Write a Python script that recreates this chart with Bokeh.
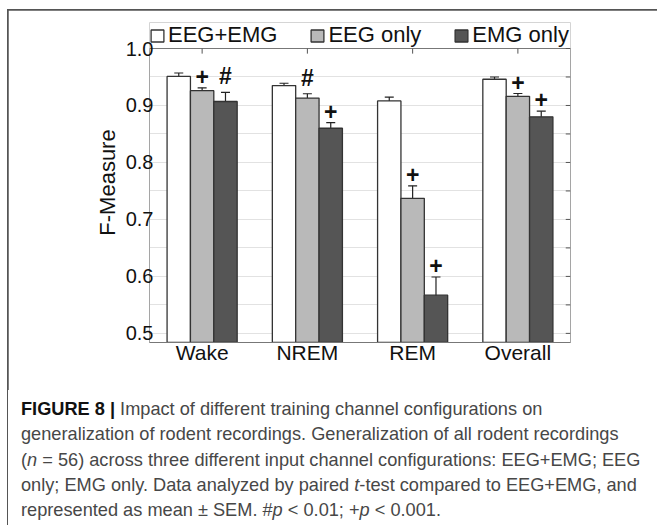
from bokeh.plotting import figure
from bokeh.models import (ColumnDataSource, FactorRange, Range1d, Whisker, TeeHead, Legend,
                          LegendItem, SingleIntervalTicker, Div, NumeralTickFormatter)
from bokeh.transform import dodge
from bokeh.layouts import column
from bokeh.embed import file_html
from bokeh.resources import INLINE
from bokeh.core.properties import value

# ---------------- data ----------------
stages = ["Wake", "NREM", "REM", "Overall"]
series_names = ["EEG+EMG", "EEG only", "EMG only"]

mean_eeg_emg = [0.951, 0.935, 0.908, 0.946]
sem_eeg_emg = [0.006, 0.004, 0.0067, 0.004]

mean_eeg = [0.926, 0.913, 0.737, 0.916]
sem_eeg = [0.005, 0.0076, 0.022, 0.005]

mean_emg = [0.907, 0.860, 0.567, 0.880]
sem_emg = [0.016, 0.010, 0.032, 0.010]

sig_eeg_emg = ["", "", "", ""]
sig_eeg = ["+", "#", "+", "+"]
sig_emg = ["#", "+", "+", "+"]

y_min, y_max = 0.484, 1.0
right_tick_values = [0.5, 0.55, 0.6, 0.65, 0.7, 0.75, 0.8, 0.85, 0.9, 0.95, 1.0]

FONT = value("Liberation Sans")

W, H = 649, 380
PLOT_H = 294          # pixel height of the data box (y_min .. y_max)
LEGEND_BAND = 26      # pixel band above the data box that holds the legend
B_LEFT, B_RIGHT, B_TOP, B_BOTTOM = 141, 87, 38 - LEGEND_BAND, 48

px_per_unit = PLOT_H / (y_max - y_min)
y_top = y_max + LEGEND_BAND / px_per_unit
label_lift = 2 * 11 / px_per_unit   # raises the centre of the y-axis title by ~11 px

p = figure(x_range=FactorRange(factors=stages, range_padding=0),
           y_range=Range1d(y_min, y_top),
           width=W, height=H, output_backend="svg", toolbar_location=None,
           min_border_left=B_LEFT, min_border_right=B_RIGHT,
           min_border_top=B_TOP, min_border_bottom=B_BOTTOM)

fills = ["#ffffff", "#b9b9b9", "#555555"]
offsets = [-0.222, 0.0, 0.222]
all_means = [mean_eeg_emg, mean_eeg, mean_emg]
all_sems = [sem_eeg_emg, sem_eeg, sem_emg]
all_sigs = [sig_eeg_emg, sig_eeg, sig_emg]

items = []
for name, means, sems, sigs, fill, off in zip(series_names, all_means, all_sems, all_sigs, fills, offsets):
    src = ColumnDataSource(dict(
        stage=stages, mean=means,
        upper=[m + s for m, s in zip(means, sems)],
        lower=[m - s for m, s in zip(means, sems)]))
    xpos = dodge("stage", off, range=p.x_range)
    r = p.vbar(x=xpos, top="mean", bottom=0, width=0.222, source=src,
               fill_color=fill, line_color="#333333", line_width=1.3)
    items.append(LegendItem(label=name, renderers=[r]))
    p.add_layout(Whisker(source=src, base=xpos, upper="upper", lower="lower",
                         dimension="height", line_color="#222222", line_width=1.2,
                         upper_head=TeeHead(size=9, line_color="#222222", line_width=1.2),
                         lower_head=TeeHead(size=9, line_color="#222222", line_width=1.2)))
    if any(sigs):
        sig_src = ColumnDataSource(dict(
            stage=[s for s, g in zip(stages, sigs) if g],
            upper=[m + e for m, e, g in zip(means, sems, sigs) if g],
            sig=[g for g in sigs if g]))
        p.text(x=dodge("stage", off, range=p.x_range), y="upper", text="sig", source=sig_src,
               text_align="center", text_baseline="bottom", text_font=FONT,
               text_font_style="bold", text_font_size="23px", text_color="#111111",
               y_offset=-3)

# box around the data area (the frame itself also holds the legend band)
n = len(stages)
box_src = ColumnDataSource(dict(left=[0], right=[n], bottom=[y_min], top=[y_max]))
p.quad(left="left", right="right", bottom="bottom", top="top", source=box_src,
       fill_color=None, line_color="#777777", line_width=1)

# inward tick marks on the top edge (at categories) and right edge (every 0.05)
top_src = ColumnDataSource(dict(stage=stages, y0=[y_max] * n, y1=[y_max - 0.009] * n))
p.segment(x0="stage", y0="y0", x1="stage", y1="y1", source=top_src,
          line_color="#555555", line_width=1)
right_src = ColumnDataSource(dict(x0=[n - 0.045] * len(right_tick_values),
                                  x1=[n] * len(right_tick_values),
                                  y=right_tick_values))
p.segment(x0="x0", y0="y", x1="x1", y1="y", source=right_src,
          line_color="#555555", line_width=1)

# ---------------- axes ----------------
p.xgrid.visible = False
p.ygrid.ticker = SingleIntervalTicker(interval=0.05, num_minor_ticks=0)
p.ygrid.bounds = (y_min, y_max)
p.ygrid.grid_line_color = "#e2e2e2"
p.ygrid.grid_line_width = 1
p.outline_line_color = None
p.background_fill_color = "#ffffff"

xa = p.xaxis[0]
xa.major_label_text_font = "Liberation Sans"
xa.major_label_text_font_size = "21px"
xa.major_label_text_color = "#111111"
xa.major_label_standoff = -2
xa.major_tick_line_color = None
xa.major_tick_out = 0
xa.major_tick_in = 0
xa.axis_line_color = "#777777"

ya = p.yaxis[0]
ya.bounds = (y_min, y_max + label_lift)
ya.ticker = SingleIntervalTicker(interval=0.1, num_minor_ticks=0)
ya.formatter = NumeralTickFormatter(format="0.0")
ya.major_label_text_font = "Liberation Sans"
ya.major_label_text_font_size = "20px"
ya.major_label_text_color = "#111111"
ya.major_label_standoff = -4
ya.major_tick_out = 0
ya.major_tick_in = 0
ya.minor_tick_out = 0
ya.minor_tick_in = 0
ya.major_tick_line_color = None
ya.minor_tick_line_color = None
ya.axis_line_color = None
ya.axis_label = "F-Measure"
ya.axis_label_text_font = "Liberation Sans"
ya.axis_label_text_font_style = "normal"
ya.axis_label_text_font_size = "22px"
ya.axis_label_text_color = "#111111"
ya.axis_label_standoff = 3

legend = Legend(items=items, orientation="horizontal", location=(0, PLOT_H),
                label_text_font="Liberation Sans", label_text_font_size="22px",
                label_text_color="#111111", glyph_width=16, glyph_height=15,
                label_standoff=3, spacing=32, padding=0, margin=0,
                border_line_color=None, background_fill_alpha=0)
p.add_layout(legend, "center")

caption_html = (
    '<div style="font-family:\'Liberation Sans\',Arial,sans-serif; font-size:18.2px; '
    'line-height:25.3px; color:#474747; padding:7px 0 0 13px; white-space:nowrap; '
    'background:#ffffff; border-left:1px solid #555555; height:135px; width:650px; '
    'box-sizing:border-box;">'
    '<b style="color:#111">FIGURE 8 |</b> Impact of different training channel configurations on<br>'
    'generalization of rodent recordings. Generalization of all rodent recordings<br>'
    '(<i>n</i> = 56) across three different input channel configurations: EEG+EMG; EEG<br>'
    'only; EMG only. Data analyzed by paired <i>t</i>-test compared to EEG+EMG, and<br>'
    'represented as mean &plusmn; SEM. #<i>p</i> &lt; 0.01; +<i>p</i> &lt; 0.001.'
    '</div>'
)
cap = Div(text=caption_html, width=650, height=135, margin=0)
p.margin = (1, 0, 0, 1)

layout = column(p, cap, background="#555555", spacing=0, margin=(9, 0, 0, 7))

open("out.html", "w").write(file_html(layout, INLINE))
